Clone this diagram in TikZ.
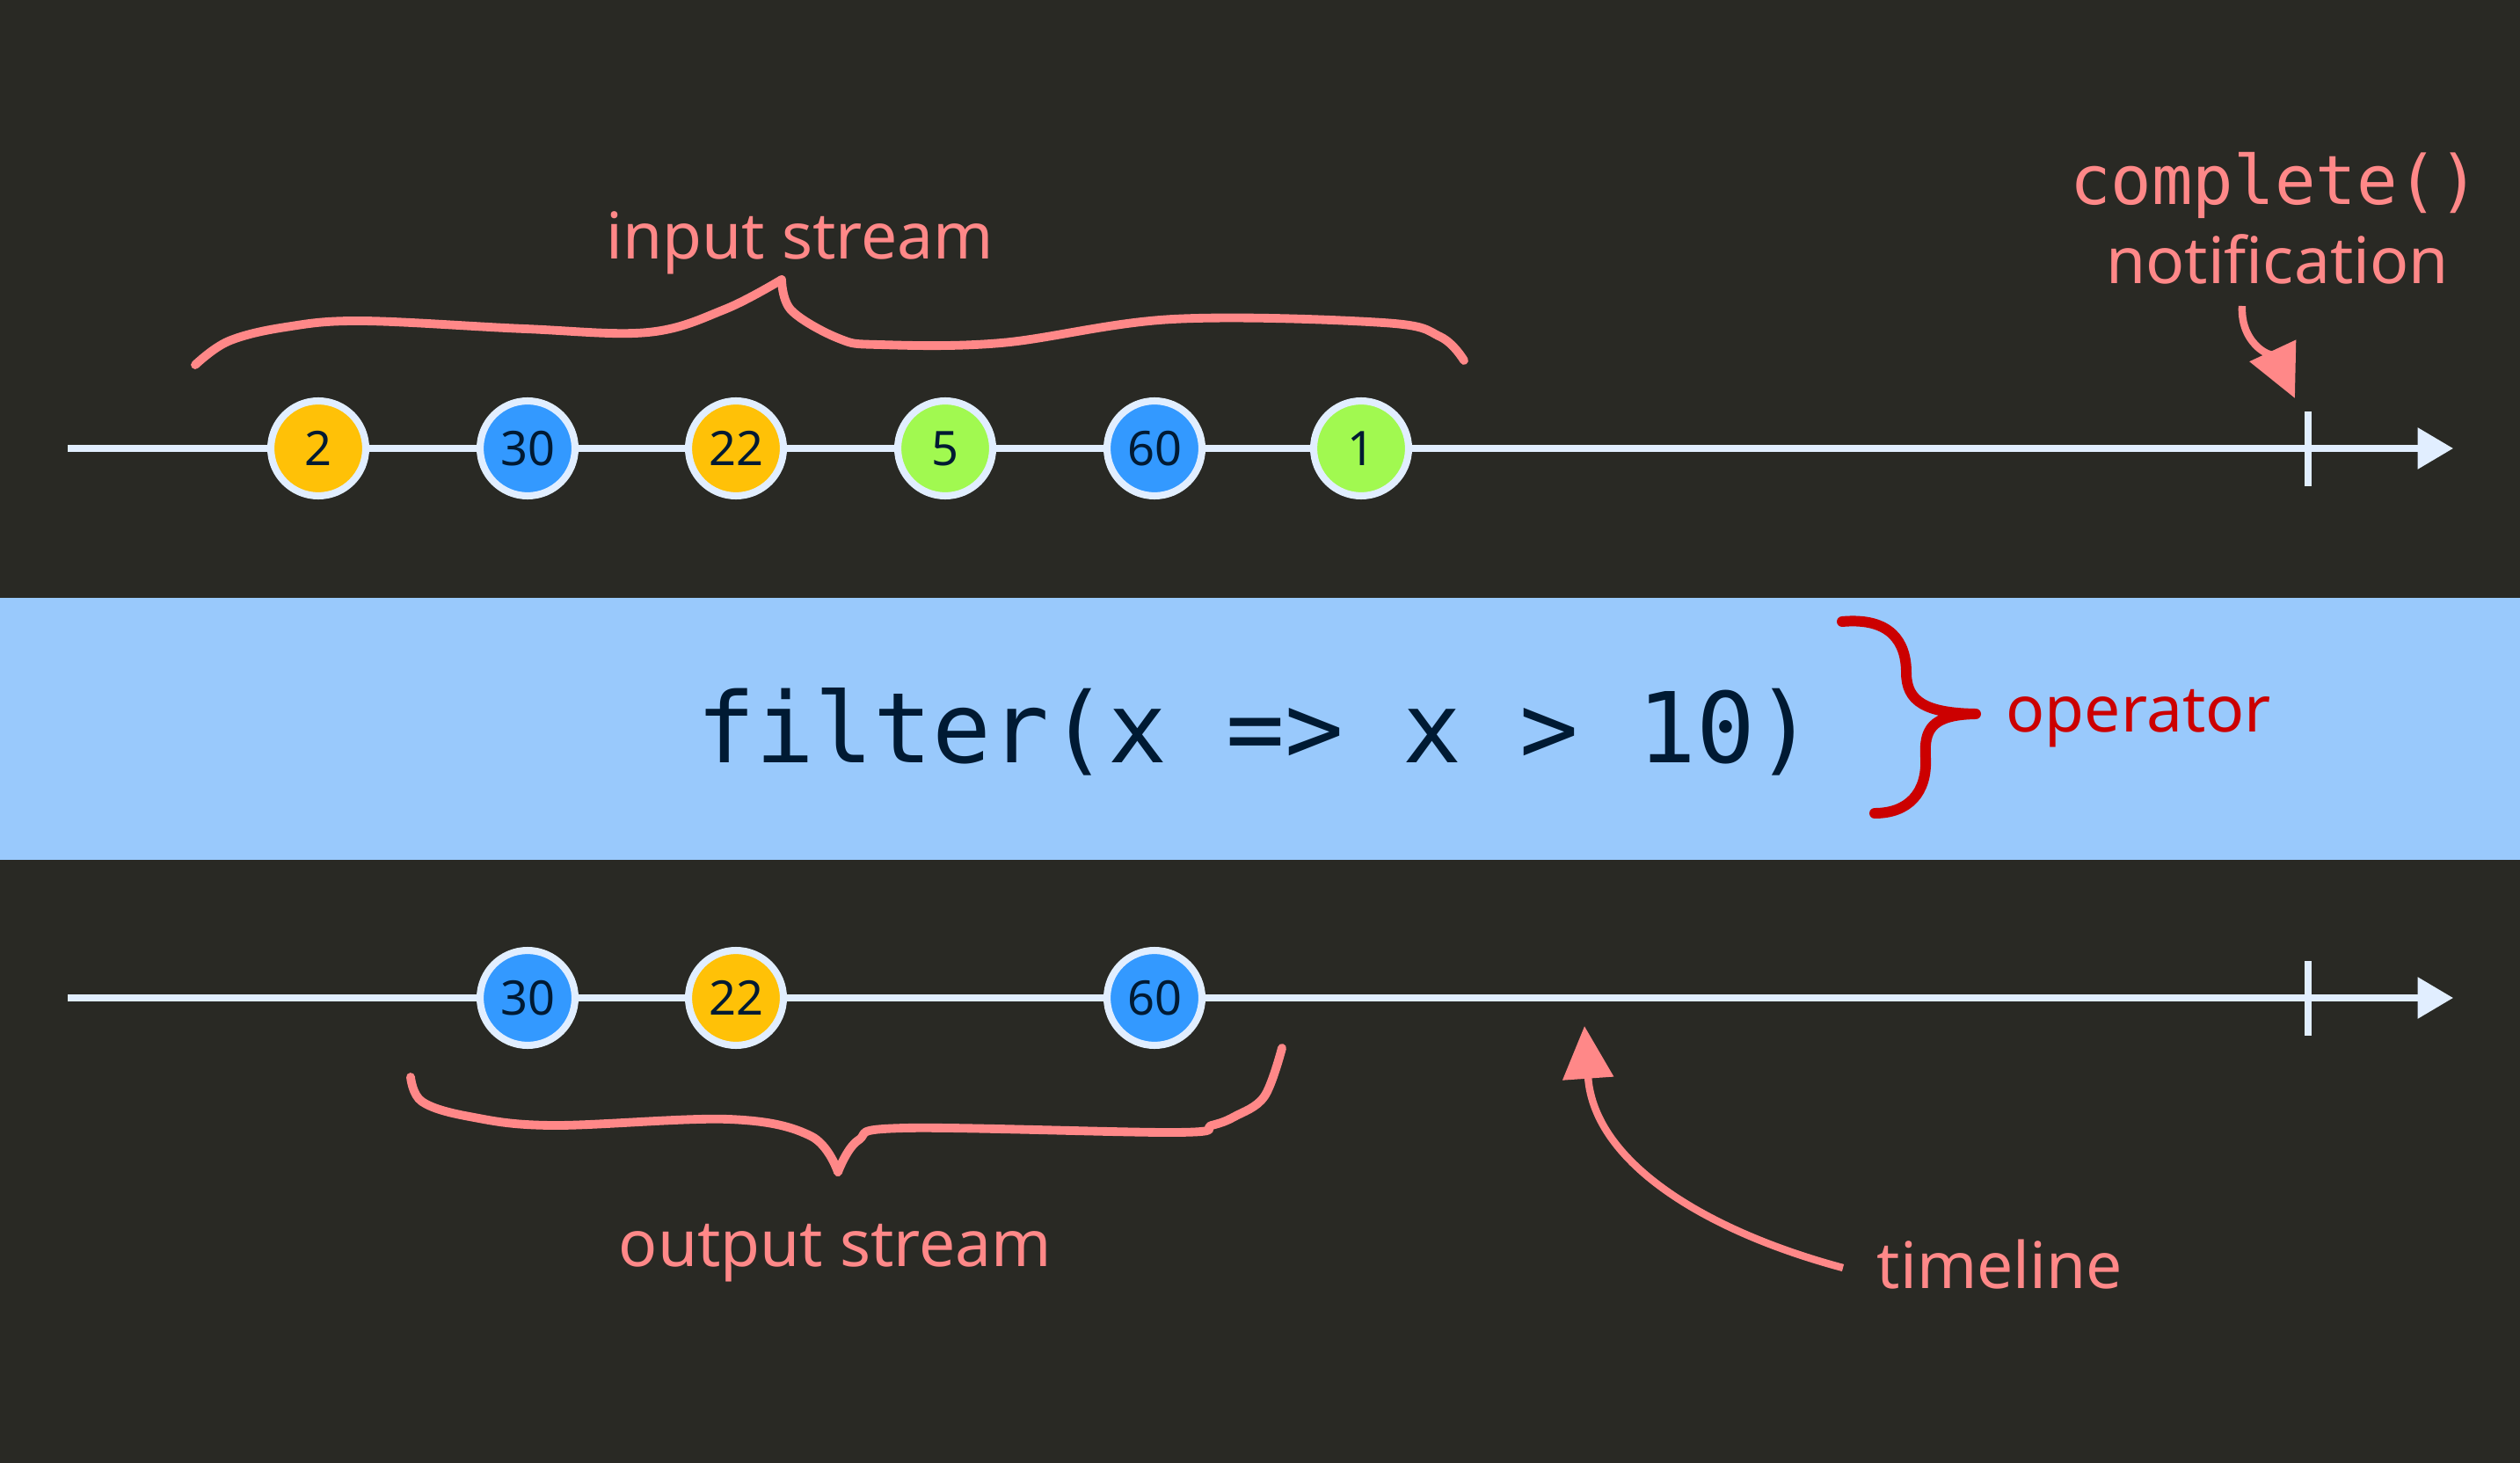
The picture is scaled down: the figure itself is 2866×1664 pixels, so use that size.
\documentclass[tikz,border=0pt]{standalone}
\usepackage{fontspec}
\setmainfont{Noto Sans}
\newfontfamily\codefont{DejaVu Sans Mono}
\usetikzlibrary{arrows.meta}

\definecolor{bgdark}{RGB}{41,41,36}
\definecolor{bandblue}{RGB}{153,201,252}
\definecolor{lineblue}{RGB}{225,238,255}
\definecolor{markyellow}{RGB}{255,193,7}
\definecolor{markblue}{RGB}{51,153,255}
\definecolor{markgreen}{RGB}{161,249,80}
\definecolor{notepink}{RGB}{255,136,136}
\definecolor{notered}{RGB}{204,0,0}
\definecolor{inkdark}{RGB}{0,26,51}

\tikzset{
  timeline/.style={draw=lineblue, line width=2pt,
                   -{Triangle[length=11.5pt,width=13pt]}},
  endtick/.style={draw=lineblue, line width=2.3pt},
  marble/.style={circle, draw=lineblue, line width=2.3pt,
                 minimum size=30.7pt, inner sep=0pt, text=inkdark,
                 font=\fontsize{15.4}{18}\selectfont},
  note/.style={text=notepink, font=\fontsize{20.8}{25}\selectfont, inner sep=0pt},
  codenote/.style={text=notepink, font=\codefont\fontsize{22}{26}\selectfont, inner sep=0pt},
  brace/.style={draw=notepink, line width=2.8pt, line cap=round, line join=round},
  pointer/.style={draw=notepink, line width=2.4pt,
                  -{Triangle[length=17pt,width=16pt]}}
}

\begin{document}
\begin{tikzpicture}[x=0.01cm, y=-0.01cm]
    \fill[bgdark] (0,0) rectangle (2866,1664);
    \useasboundingbox (0,0) rectangle (2866,1664);
    \fill[bandblue] (0,680) rectangle (2866,978);

    % input stream
    \coordinate (inStart) at (77,510);
    \coordinate (inEnd) at (2790,510);
    \coordinate (inTickTop) at (2625,468);
    \coordinate (inTickBot) at (2625,553);
    \draw[timeline] (inStart) -- (inEnd);
    \draw[endtick] (inTickTop) -- (inTickBot);
    \foreach \x/\v/\c [count=\i] in {362/2/markyellow, 600/30/markblue,
                                     837/22/markyellow, 1075/5/markgreen,
                                     1313/60/markblue, 1548/1/markgreen}
        \node[marble, fill=\c] (in\i) at (\x,510) {\v};

    % output stream
    \coordinate (outStart) at (77,1135);
    \coordinate (outEnd) at (2790,1135);
    \coordinate (outTickTop) at (2625,1093);
    \coordinate (outTickBot) at (2625,1178);
    \draw[timeline] (outStart) -- (outEnd);
    \draw[endtick] (outTickTop) -- (outTickBot);
    \foreach \x/\v/\c [count=\i] in {600/30/markblue, 837/22/markyellow,
                                     1313/60/markblue}
        \node[marble, fill=\c] (out\i) at (\x,1135) {\v};

    % operator
    \node[anchor=base, text=inkdark, inner sep=0pt,
          font=\codefont\fontsize{31.6}{36}\selectfont] (filterOp) at (1428,867)
          {filter(x => x > 10)};
    \draw[draw=notered, line width=3.4pt, line cap=round, line join=round]
        (2095,707) .. controls (2150,702) and (2168,730) .. (2168,765)
        .. controls (2168,798) and (2190,811) .. (2247,812)
        .. controls (2196,813) and (2188,830) .. (2190,862)
        .. controls (2192,902) and (2170,925) .. (2132,925);
    \node[anchor=base west, text=notered, inner sep=0pt,
          font=\fontsize{20.8}{25}\selectfont] (opLabel) at (2281,832) {operator};

    % labels
    \node[note, anchor=base] (inLabel) at (910,295) {input stream};
    \draw[brace] plot[smooth, tension=0.6] coordinates {(222,415) (260,388) (325,372)
        (412,365) (597,374) (737,378) (824,352) (889,318)};
    \draw[brace] plot[smooth, tension=0.6] coordinates {(889,318) (900,353) (954,385)
        (1000,392) (1139,390) (1334,363) (1573,367) (1638,383) (1665,410)};

    \node[note, anchor=base] (outLabel) at (950,1440) {output stream};
    \draw[brace] plot[smooth, tension=0.6] coordinates {(467,1225) (480,1253) (534,1270)
        (628,1280) (829,1273) (922,1292) (953,1333)};
    \draw[brace] plot[smooth, tension=0.6] coordinates {(953,1333) (976,1297) (1029,1283)
        (1337,1288) (1378,1280) (1404,1270) (1438,1247) (1458,1192)};

    \node[codenote, anchor=base] (completeLabel) at (2587,233) {complete()};
    \node[note, anchor=base] (notifLabel) at (2590,323) {notification};
    \coordinate (notifTail) at (2550,348);
    \coordinate (notifTip) at (2610,453);
    \draw[pointer] (notifTail) to[out=-93, in=115] (notifTip);

    \node[note, anchor=base west] (timeLabel) at (2134,1465) {timeline};
    \coordinate (timeTail) at (2096,1442);
    \coordinate (timeTip) at (1802,1167);
    \draw[pointer] (timeTail) to[out=165, in=-86] (timeTip);
\end{tikzpicture}
\end{document}
